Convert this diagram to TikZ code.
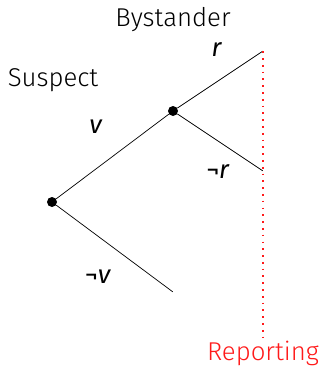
\documentclass[tikz,border=0pt]{standalone}
\usepackage{fontspec}
\setmainfont{Fira Sans Light}
\newfontfamily\actfont{Fira Sans}
\usepackage{tikz}
\usetikzlibrary{positioning}
\definecolor{reportred}{HTML}{FF1A1A}

\begin{document}
\begin{tikzpicture}[x=0.03cm, y=-0.03cm,
    choice/.style={circle, fill=black, inner sep=0pt, minimum size=0.3cm},
    leaf/.style={inner sep=0pt, minimum size=0pt},
    branch/.style={line width=0.6pt},
    player/.style={font=\fontsize{22}{26}\selectfont},
    act/.style={font=\fontsize{22}{26}\selectfont\actfont},
    report/.style={reportred, line width=1.5pt, dash pattern=on 1.5pt off 4.3pt}
]
\useasboundingbox (0,0) rectangle (321,368);
\node[choice] (suspect) at (52,202) {};
\node[choice] (bystander) at (173,111) {};
\node[leaf] (vr) at (263,51) {};
\node[leaf] (vnr) at (263,171) {};
\node[leaf] (nv) at (173,292) {};
\coordinate (bottom) at (263,338);

\draw[branch] (suspect) -- (bystander);
\draw[branch] (suspect) -- (nv);
\draw[branch] (bystander) -- (vr);
\draw[branch] (bystander) -- (vnr);
\draw[report] (vr) -- (bottom);

\node[player] (suspectlbl) at (53,80) {Suspect};
\node[player] (bystanderlbl) at (173,20) {Bystander};
\node[player, reportred, below=-1pt of bottom] (reportlbl) {Reporting};

\node[act] (lblv) at (96,127) {\textit{v}};
\node[act] (lblnv) at (98,277) {¬\textit{v}};
\node[act] (lblr) at (217,50) {\textit{r}};
\node[act] (lblnr) at (218,172) {¬\textit{r}};
\end{tikzpicture}
\end{document}
